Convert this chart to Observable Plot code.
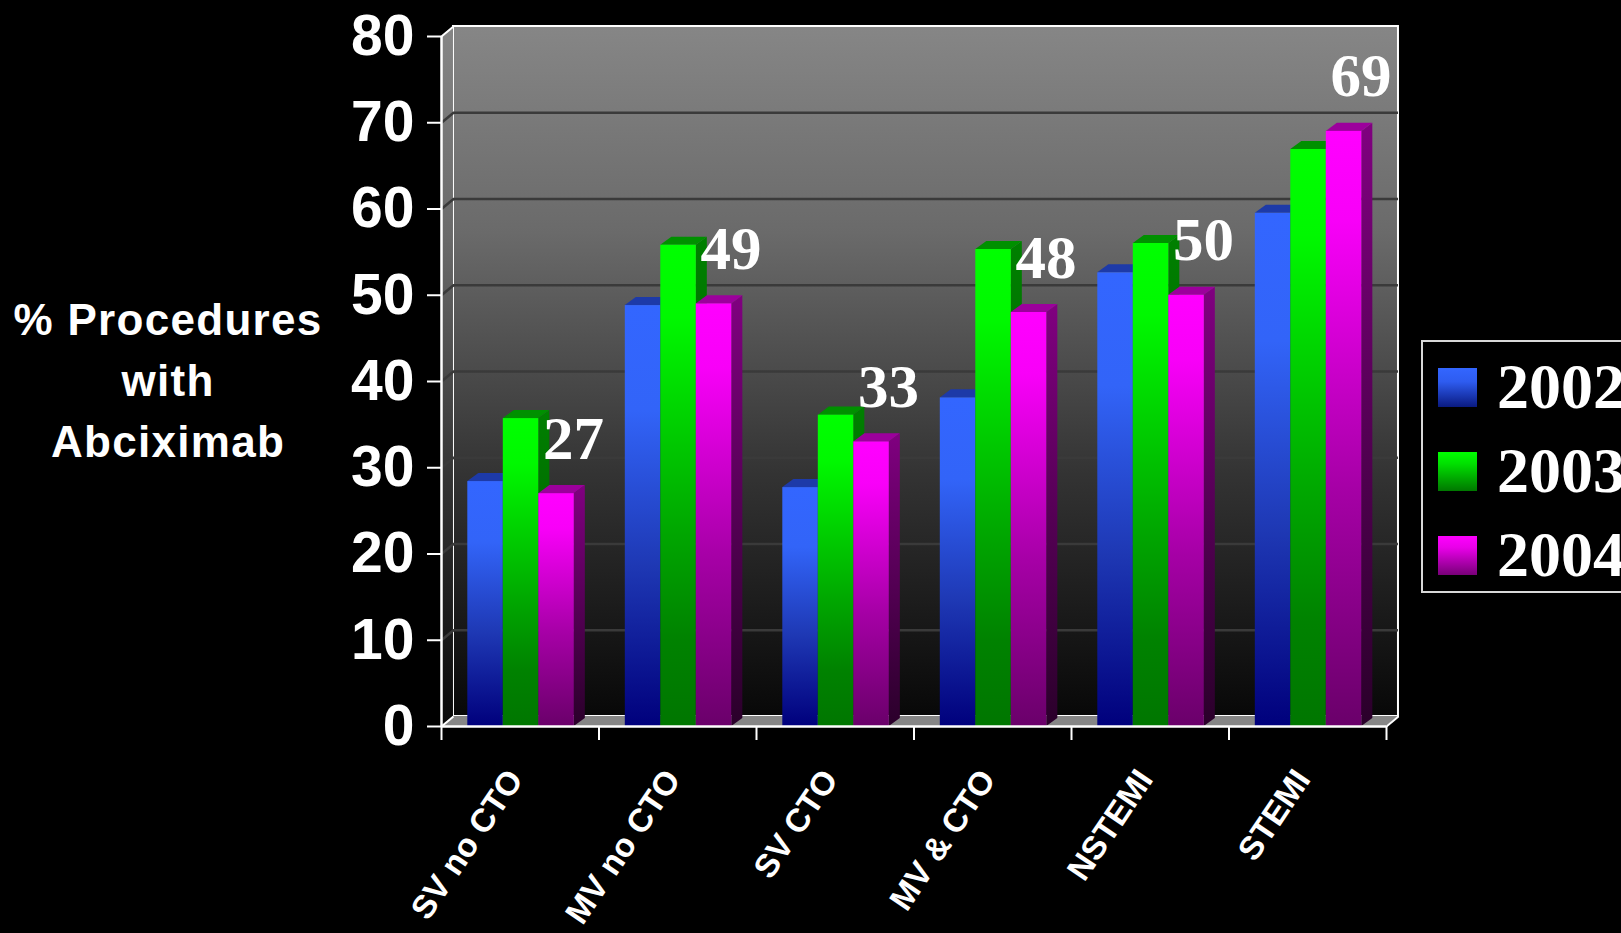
<!DOCTYPE html>
<html>
<head>
<meta charset="utf-8">
<script src="https://cdn.jsdelivr.net/npm/d3@7"></script>
<script src="https://cdn.jsdelivr.net/npm/@observablehq/plot@0.6"></script>
<style>
html, body { margin: 0; padding: 0; background: #000; overflow: hidden; }
#wrap { position: relative; width: 1621px; height: 933px; overflow: hidden; background: #000; }
#chart { position: absolute; left: 0; top: 0; }
#ytitle { position: absolute; left: 8px; width: 320px; top: 289px; text-align: center; color: #fff;
  font: bold 44px "Liberation Sans", Arial, sans-serif; line-height: 61px; letter-spacing: 1.3px; }
#legend { position: absolute; left: 1421px; top: 340px; width: 240px; height: 253px;
  border: 2px solid #d8d8d8; box-sizing: border-box; }
.sw { position: absolute; left: 15px; width: 39px; height: 39px; }
.lt { position: absolute; left: 74px; color: #fff; font: bold 64px "Liberation Serif", "Times New Roman", serif;
  line-height: 64px; white-space: nowrap; }
</style>
</head>
<body>
<div id="wrap">
  <div id="chart"></div>
  <div id="ytitle">% Procedures<br>with<br>Abciximab</div>
  <div id="legend"></div>
</div>
<script>
// ---------- data ----------
const categories = ["SV no CTO", "MV no CTO", "SV CTO", "MV & CTO", "NSTEMI", "STEMI"];
const years = ["2002", "2003", "2004"];
const v2002 = [28.4, 48.8, 27.7, 38.1, 52.6, 59.5];
const v2003 = [35.7, 55.8, 36.1, 55.3, 56.0, 66.9];
const v2004 = [27, 49, 33, 48, 50, 69];
const yTicks = [0, 10, 20, 30, 40, 50, 60, 70, 80];
const gridValues = [10, 20, 30, 40, 50, 60, 70];

// ---------- styling / 3D geometry (in scale units) ----------
const G0 = 0.167, BW = 0.2254;         // group start offset, bar width
const DX = 0.07, DY = 0.93;            // bar depth
const WX = 0.076, WY = 1.16;           // wall depth
const frontStops = [
  [[0, "#3366ff"], [0.25, "#3264f8"], [0.62, "#1e38b4"], [1, "#00007c"]],
  [[0, "#00ff00"], [0.15, "#00f800"], [0.6, "#00a600"], [0.82, "#008200"], [1, "#007600"]],
  [[0, "#ff00ff"], [0.15, "#f800f8"], [0.6, "#a600a6"], [1, "#6a006a"]]
];
const sideStops = [
  [[0, "#1a2e90"], [1, "#000038"]],
  [[0, "#008000"], [1, "#004a00"]],
  [[0, "#800080"], [1, "#2a002a"]]
];
const topColors = ["#1d3aa8", "#009000", "#9c009c"];
const swatchCss = [
  "linear-gradient(#3366ff 0%, #2e5cf0 35%, #0a1a80 100%)",
  "linear-gradient(#00ff00 0%, #00e000 30%, #007800 100%)",
  "linear-gradient(#ff00ff 0%, #e800e8 30%, #780078 100%)"
];

const seriesValues = [v2002, v2003, v2004];
const bars = [];
years.forEach((yr, j) => categories.forEach((cat, i) =>
  bars.push({id: yr + "-" + i, cat, ci: i, year: yr, yi: j, value: seriesValues[j][i]})));
const left = d => d.ci + G0 + d.yi * BW;
const right = d => d.ci + G0 + (d.yi + 1) * BW;

const sans = '"Liberation Sans", Arial, sans-serif';
const serif = '"Liberation Serif", "Times New Roman", serif';

const marks = [
  // back wall
  Plot.rect([{}], {x1: WX, x2: 6 + WX, y1: WY, y2: 80 + WY, fill: "url(#gWall)", stroke: "white", strokeWidth: 2}),
  // left wall
  Plot.areaY([{x: 0, y1: 0, y2: 80}, {x: WX, y1: WY, y2: 80 + WY}], {x: "x", y1: "y1", y2: "y2", fill: "url(#gWall)"}),
  // floor
  Plot.areaX([{y: 0, x1: 0, x2: 6}, {y: WY, x1: WX, x2: 6 + WX}], {y: "y", x1: "x1", x2: "x2", fill: "#868686"}),
  // gridlines
  Plot.ruleY(gridValues, {y: d => d + WY, x1: WX, x2: 6 + WX, stroke: "#3a3a3a", strokeWidth: 2.5}),
  Plot.link(gridValues, {x1: 0, y1: d => d, x2: WX, y2: d => d + WY, stroke: "#3a3a3a", strokeWidth: 2.5}),
  // wall/floor white edges
  Plot.link([0, 80], {x1: 0, y1: d => d, x2: WX, y2: d => d + WY, stroke: "white", strokeWidth: 2}),
  Plot.link([6], {x1: d => d, y1: 0, x2: d => d + WX, y2: WY, stroke: "white", strokeWidth: 2}),
];

years.forEach((yr, j) => {
  const data = bars.filter(d => d.yi === j);
  const side = data.flatMap(d => [
    {id: d.id, x: right(d), y1: 0, y2: d.value},
    {id: d.id, x: right(d) + DX, y1: DY, y2: d.value + DY}
  ]);
  const top = data.flatMap(d => [
    {id: d.id, y: d.value, x1: left(d), x2: right(d)},
    {id: d.id, y: d.value + DY, x1: left(d) + DX, x2: right(d) + DX}
  ]);
  marks.push(
    Plot.areaY(side, {x: "x", y1: "y1", y2: "y2", z: "id", fill: `url(#gSide${j})`}),
    Plot.areaX(top, {y: "y", x1: "x1", x2: "x2", z: "id", fill: topColors[j]}),
    Plot.rect(data, {x1: left, x2: right, y1: 0, y2: "value", fill: `url(#gFront${j})`})
  );
});

marks.push(
  // front floor edge & y axis line
  Plot.ruleY([0], {x1: 0, x2: 6, stroke: "white", strokeWidth: 2.5}),
  Plot.ruleX([0], {y1: 0, y2: 80, stroke: "white", strokeWidth: 2.5}),
  Plot.axisY(yTicks, {anchor: "left", tickSize: 14, tickPadding: 13, stroke: "white", strokeWidth: 2,
    fill: "white", fontSize: 57, fontWeight: "bold", fontFamily: sans, label: null, tickFormat: d => String(d)}),
  Plot.axisX([0, 1, 2, 3, 4, 5, 6], {anchor: "bottom", tickSize: 14, stroke: "white", strokeWidth: 2,
    tickFormat: () => "", label: null}),
  // category labels
  Plot.text(categories, {x: (d, i) => i + 0.5, y: 0, text: d => d, rotate: -56, textAnchor: "end",
    lineAnchor: "middle", dx: -5, dy: 47, fill: "white", fontSize: 33, fontWeight: "bold", fontFamily: sans}),
  // value labels for 2004
  Plot.text(bars.filter(d => d.yi === 2), {x: d => (left(d) + right(d)) / 2, y: "value", text: d => String(d.value),
    dx: 17, dy: -35, lineAnchor: "bottom", textAnchor: "middle", fill: "white", fontSize: 61, fontWeight: "bold", fontFamily: serif})
);

const plot = Plot.plot({
  width: 1621, height: 933,
  marginLeft: 441, marginRight: 235, marginTop: 36, marginBottom: 207,
  x: {domain: [0, 6]},
  y: {domain: [0, 80]},
  style: {background: "black", color: "white", overflow: "visible"},
  marks
});

// gradients
const svg = d3.select(plot);
const defs = svg.insert("defs", ":first-child");
function grad(id, stops) {
  const g = defs.append("linearGradient").attr("id", id).attr("x1", 0).attr("y1", 0).attr("x2", 0).attr("y2", 1);
  stops.forEach(([o, c]) => g.append("stop").attr("offset", o).attr("stop-color", c));
}
grad("gWall", [[0, "#868686"], [0.3, "#6a6a6a"], [0.65, "#333333"], [1, "#080808"]]);
frontStops.forEach((s, j) => grad("gFront" + j, s));
sideStops.forEach((s, j) => grad("gSide" + j, s));

document.getElementById("chart").appendChild(plot);

// legend
const legend = document.getElementById("legend");
years.forEach((yr, j) => {
  const sw = document.createElement("div");
  sw.className = "sw";
  sw.style.top = (26 + 84 * j) + "px";
  sw.style.background = swatchCss[j];
  legend.appendChild(sw);
  const t = document.createElement("div");
  t.className = "lt";
  t.style.top = (13 + 84 * j) + "px";
  t.textContent = yr;
  legend.appendChild(t);
});
</script>
</body>
</html>
